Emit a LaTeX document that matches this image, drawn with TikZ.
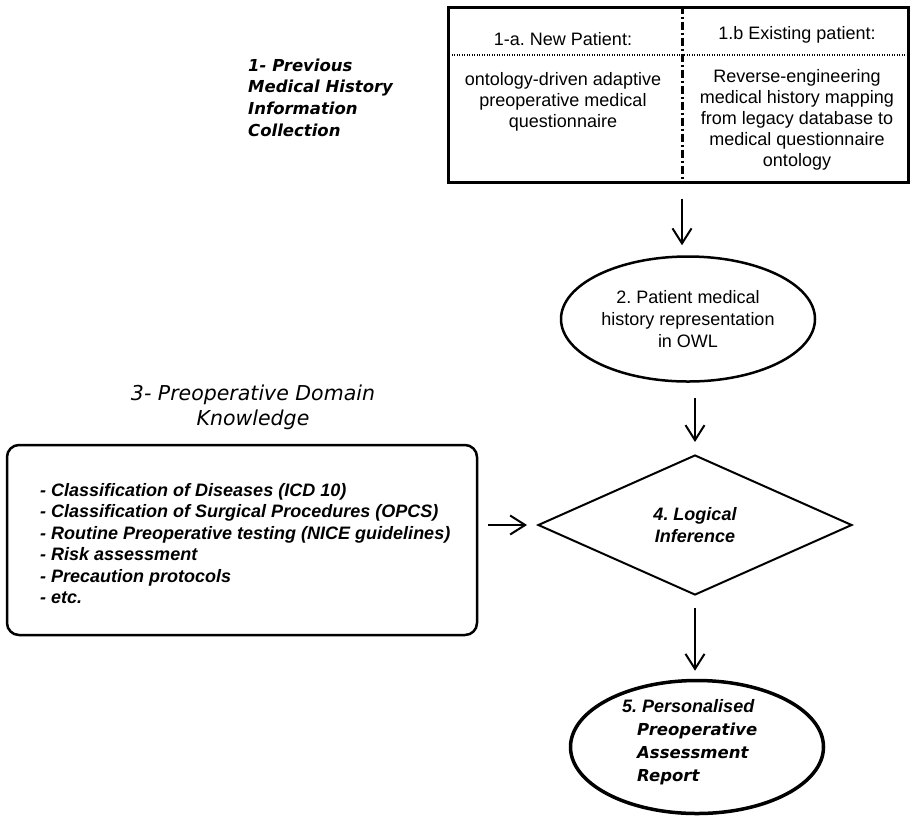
\documentclass[tikz,border=0pt]{standalone}
\usepackage{fontspec}
\setmainfont{Liberation Sans}
\newfontfamily\verd{DejaVu Sans}
\usetikzlibrary{shapes.geometric,arrows.meta,calc}
\frenchspacing
\begin{document}
\begin{tikzpicture}[x=1pt,y=-1pt,
  arr/.style={-{Straight Barb[length=15pt,width=19pt]}, line width=2pt},
  txt/.style={font=\fontsize{18}{21}\selectfont, align=center, inner sep=0pt},
  bitxt/.style={font=\bfseries\itshape\fontsize{18}{21.4}\selectfont, inner sep=0pt},
  vbi/.style={font=\verd\bfseries\itshape\fontsize{16.5}{21.7}\selectfont, inner sep=0pt}]
\useasboundingbox (0,0) rectangle (910,815);

% box 1
\node[draw, line width=3pt, minimum width=460pt, minimum height=175pt, inner sep=0pt] (box1) at (678,94.5) {};
\path (box1.north) ++(4,0) coordinate (divt);
\path (box1.south) ++(4,0) coordinate (divb);
\draw[line width=3pt, dash pattern=on 8pt off 3pt on 2pt off 3pt] (divt) -- (divb);
\draw[line width=2.6pt, dash pattern=on 1.3pt off 1.2pt] (box1.west |- 0,55) -- (box1.east |- 0,55);
\node[txt] (t1a) at (563,39) {1-a. New Patient:};
\node[txt] (t1b) at (797,35) {1.b Existing patient:};
\node[txt] (t1ad) at (563,102) {ontology-driven adaptive\\preoperative medical\\questionnaire};
\node[txt] (t1bd) at (797,120) {Reverse-engineering\\medical history mapping\\from legacy database to\\medical questionnaire\\ontology};

\node[vbi, align=left, anchor=west] (title1) at (248,97.5) {1- Previous\\Medical History\\Information\\Collection};

% ellipse 2
\node[ellipse, draw, line width=2.5pt, minimum width=254pt, minimum height=125pt, txt, font=\fontsize{18}{22}\selectfont] (e2) at (688,319) {2. Patient medical\\history representation\\in OWL};

% knowledge
\node[font=\verd\itshape\fontsize{20.5}{25}\selectfont, align=center, inner sep=0pt] (title3) at (253,407) {3- Preoperative Domain\\Knowledge};
\node[draw, rounded corners=12pt, line width=2.5pt, minimum width=470pt, minimum height=190pt] (kb) at (242,540) {};
\node[bitxt, align=left, anchor=west] (list) at (40,543.5) {- Classification of Diseases (ICD 10)\\- Classification of Surgical Procedures (OPCS)\\- Routine Preoperative testing (NICE guidelines)\\- Risk assessment\\- Precaution protocols\\- etc.};

% diamond
\node[diamond, draw, line width=2pt, minimum width=314pt, minimum height=140pt, aspect=2, bitxt, align=center] (dia) at (695,525) {4. Logical\\Inference};

% ellipse 5
\node[ellipse, draw, line width=3.5pt, minimum width=253pt, minimum height=133pt] (e5) at (697,747) {};
\node[inner sep=0pt, align=left, anchor=west, font=\fontsize{18}{23}\selectfont] (e5t) at (622,742) {{\bfseries\itshape 5. Personalised}\\{\verd\bfseries\itshape\fontsize{16.5}{23}\selectfont\hspace*{15pt}Preoperative}\\{\verd\bfseries\itshape\fontsize{16.5}{23}\selectfont\hspace*{15pt}Assessment}\\{\verd\bfseries\itshape\fontsize{16.5}{23}\selectfont\hspace*{15pt}Report}};

% arrows
\draw[arr, shorten <=15pt, shorten >=10pt] (divb) -- (divb |- e2.north);
\draw[arr, shorten <=15pt, shorten >=12pt] (e2.south -| dia.north) -- (dia.north);
\draw[arr, shorten <=12pt, shorten >=8pt] (dia.south) -- (dia.south |- e5.north);
\draw[arr, shorten <=10pt, shorten >=10pt] (kb.east |- dia.west) -- (dia.west);
\end{tikzpicture}
\end{document}
